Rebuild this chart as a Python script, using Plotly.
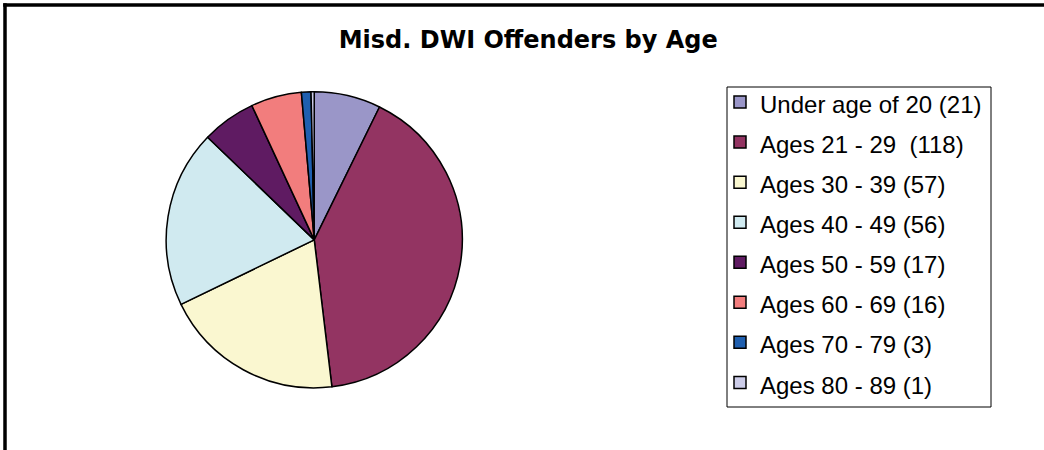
import plotly.graph_objects as go

labels = [
    "Under age of 20 (21)",
    "Ages 21 - 29  (118)",
    "Ages 30 - 39 (57)",
    "Ages 40 - 49 (56)",
    "Ages 50 - 59 (17)",
    "Ages 60 - 69 (16)",
    "Ages 70 - 79 (3)",
    "Ages 80 - 89 (1)",
]
counts = [21, 118, 57, 56, 17, 16, 3, 1]
colors = ["#9A96C8", "#933462", "#FAF7D0", "#D0EAF0",
          "#5F1B62", "#F27D7D", "#1F5FAF", "#CCCCE8"]

W, H = 1044, 450

# legend text drawn at 24px, legend font bigger so rows are ~40px apart
legend_text = [f'<span style="font-size:24px">{t}</span>' for t in labels]

pie = go.Pie(
    labels=legend_text,
    values=counts,
    sort=False,
    direction="clockwise",
    rotation=0,
    textinfo="none",
    hoverinfo="value+percent",
    marker=dict(colors=colors, line=dict(color="black", width=1.5)),
    domain=dict(x=[0.159, 0.443], y=[0.138, 0.796]),
)

fig = go.Figure(data=[pie])

fig.update_layout(
    width=W,
    height=H,
    margin=dict(l=0, r=0, t=0, b=0),
    paper_bgcolor="white",
    plot_bgcolor="white",
    font=dict(family="Liberation Sans, Arial, sans-serif", color="black"),
    title=dict(
        text="<b>Misd. DWI Offenders by Age</b>",
        x=0.506, xanchor="center",
        y=1 - 40 / H, yanchor="middle",
        font=dict(size=24, family="DejaVu Sans, sans-serif"),
    ),
    legend=dict(
        x=720 / W, xanchor="left",
        y=1 - 77 / H, yanchor="top",
        bgcolor="rgba(0,0,0,0)",
        borderwidth=0,
        font=dict(size=28.5),
        itemclick=False,
    ),
    shapes=[
        # chart frame, only left and top edges are in view
        dict(type="line", xref="paper", yref="paper",
             x0=5 / W, x1=5 / W, y0=0, y1=1 - 3.2 / H,
             line=dict(color="black", width=3.5)),
        dict(type="line", xref="paper", yref="paper",
             x0=3.2 / W, x1=1, y0=1 - 5 / H, y1=1 - 5 / H,
             line=dict(color="black", width=3.5)),
        # legend box
        dict(type="rect", xref="paper", yref="paper",
             x0=727 / W, x1=991 / W, y0=1 - 407 / H, y1=1 - 87 / H,
             line=dict(color="black", width=1)),
    ],
)

fig.write_html("out.html", config={"displayModeBar": False},
               post_script="document.body.style.margin='0';")
